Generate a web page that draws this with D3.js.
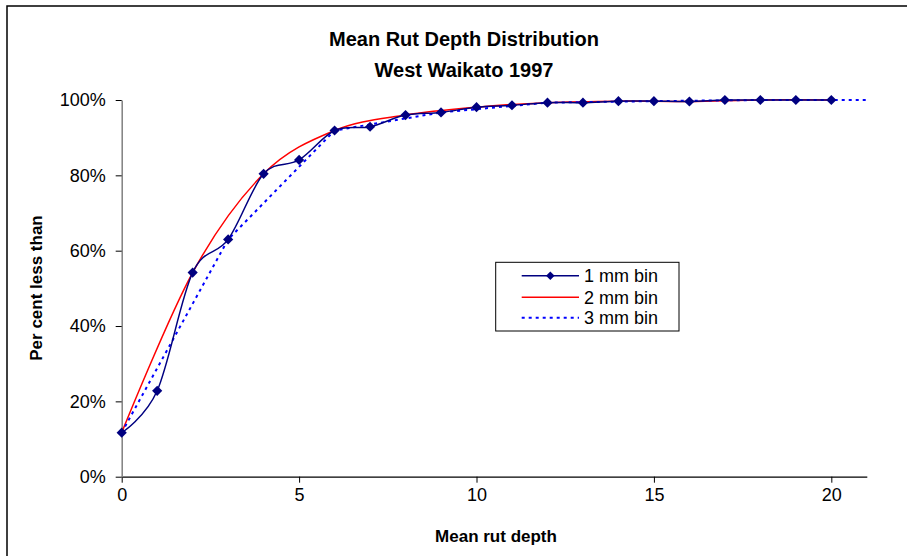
<!DOCTYPE html>
<html>
<head>
<meta charset="utf-8">
<script src="https://cdn.jsdelivr.net/npm/d3@7"></script>
<style>
  body { margin: 0; background: #fff; }
  svg { display: block; font-family: "Liberation Sans", Arial, sans-serif; }
</style>
</head>
<body>
<svg width="907" height="556"></svg>
<script>
// cumulative percent less than
const depth1 = [0, 1, 2, 3, 4, 5, 6, 7, 8, 9, 10, 11, 12, 13, 14, 15, 16, 17, 18, 19, 20];
const pct1 = [11.7, 22.8, 54.2, 63.0, 80.4, 84.1, 91.9, 92.9, 96.0, 96.7, 98.1, 98.6, 99.3, 99.3, 99.7, 99.7, 99.6, 100, 100, 100, 100];

const depth2 = [0, 2, 4, 6, 8, 10, 12, 14, 16, 18, 20];
const pct2 = [11.7, 54.2, 80.4, 91.9, 96.0, 98.1, 99.3, 99.7, 99.6, 100, 100];

const depth3 = [0, 3, 6, 9, 12, 15, 18, 21];
const pct3 = [11.7, 63.0, 91.9, 96.7, 99.3, 99.7, 100, 100];

const xTicks = [0, 5, 10, 15, 20];
const yTicks = [0, 20, 40, 60, 80, 100];

const svg = d3.select("svg");

// chart frame (only top and left edges fall inside the picture)
svg.append("rect")
  .attr("x", 7).attr("y", 6)
  .attr("width", 1000).attr("height", 1000)
  .attr("fill", "none")
  .attr("stroke", "#000")
  .attr("stroke-width", 1.5);

const x = d3.scaleLinear().domain([0, 21]).range([121.7, 866.8]);
const y = d3.scaleLinear().domain([0, 100]).range([476.7, 100]);

// title
svg.append("text")
  .attr("x", 464).attr("y", 46)
  .attr("text-anchor", "middle")
  .attr("font-size", 20).attr("font-weight", "bold")
  .text("Mean Rut Depth Distribution");
svg.append("text")
  .attr("x", 464).attr("y", 77)
  .attr("text-anchor", "middle")
  .attr("font-size", 20).attr("font-weight", "bold")
  .text("West Waikato 1997");

// axes
const xAxis = svg.append("g")
  .attr("transform", `translate(0,${y(0)})`)
  .call(d3.axisBottom(x).tickValues(xTicks).tickSize(6).tickSizeOuter(0).tickPadding(6));
xAxis.select(".domain").attr("stroke", "#000").attr("stroke-width", 1.2);
xAxis.selectAll("text").attr("font-size", 18).attr("font-family", null).attr("fill", "#000");

const yAxis = svg.append("g")
  .attr("transform", `translate(${x(0)},0)`)
  .call(d3.axisLeft(y).tickValues(yTicks).tickSize(6).tickSizeOuter(0).tickPadding(10)
    .tickFormat(d => d + "%"));
yAxis.select(".domain").attr("stroke", "#808080").attr("stroke-width", 1.5);
yAxis.selectAll("text").attr("font-size", 18).attr("font-family", null).attr("fill", "#000");

// axis titles
svg.append("text")
  .attr("x", 496).attr("y", 542)
  .attr("text-anchor", "middle")
  .attr("font-size", 17).attr("font-weight", "bold")
  .text("Mean rut depth");
svg.append("text")
  .attr("transform", "translate(42,288) rotate(-90)")
  .attr("text-anchor", "middle")
  .attr("font-size", 17).attr("font-weight", "bold")
  .text("Per cent less than");

// series
const smooth = d3.line()
  .x(d => x(d[0])).y(d => y(d[1]))
  .curve(d3.curveCardinal.tension(0));
const straight = d3.line()
  .x(d => x(d[0])).y(d => y(d[1]));

const s1 = d3.zip(depth1, pct1);
const s2 = d3.zip(depth2, pct2);
const s3 = d3.zip(depth3, pct3);

svg.append("path")
  .attr("d", smooth(s2))
  .attr("fill", "none")
  .attr("stroke", "#ff0000")
  .attr("stroke-width", 1.5);

svg.append("path")
  .attr("d", straight(s3))
  .attr("fill", "none")
  .attr("stroke", "#0000ff")
  .attr("stroke-width", 2)
  .attr("stroke-dasharray", "3,4");

svg.append("path")
  .attr("d", smooth(s1))
  .attr("fill", "none")
  .attr("stroke", "#000080")
  .attr("stroke-width", 1.5);

const diamond = d3.symbol().type(d3.symbolSquare).size(52);
svg.selectAll(".marker")
  .data(s1)
  .join("path")
  .attr("class", "marker")
  .attr("d", diamond)
  .attr("transform", d => `translate(${x(d[0])},${y(d[1])}) rotate(45)`)
  .attr("fill", "#000080");

// legend
const legend = svg.append("g");
legend.append("rect")
  .attr("x", 495.7).attr("y", 262.3)
  .attr("width", 183.3).attr("height", 68.7)
  .attr("fill", "#fff")
  .attr("stroke", "#000")
  .attr("stroke-width", 1);

const legendItems = [
  { label: "1 mm bin", color: "#000080", dash: null, width: 1.5, marker: true },
  { label: "2 mm bin", color: "#ff0000", dash: null, width: 1.5, marker: false },
  { label: "3 mm bin", color: "#0000ff", dash: "3,4", width: 2, marker: false }
];
const rowY = [275.7, 297.2, 317.7];

legendItems.forEach((item, i) => {
  const ly = rowY[i];
  legend.append("line")
    .attr("x1", 521.7).attr("x2", 579)
    .attr("y1", ly).attr("y2", ly)
    .attr("stroke", item.color)
    .attr("stroke-width", item.width)
    .attr("stroke-dasharray", item.dash);
  if (item.marker) {
    legend.append("path")
      .attr("d", d3.symbol().type(d3.symbolSquare).size(36))
      .attr("transform", `translate(550.3,${ly}) rotate(45)`)
      .attr("fill", item.color);
  }
  legend.append("text")
    .attr("x", 584).attr("y", ly + 6.5)
    .attr("font-size", 18)
    .text(item.label);
});
</script>
</body>
</html>
